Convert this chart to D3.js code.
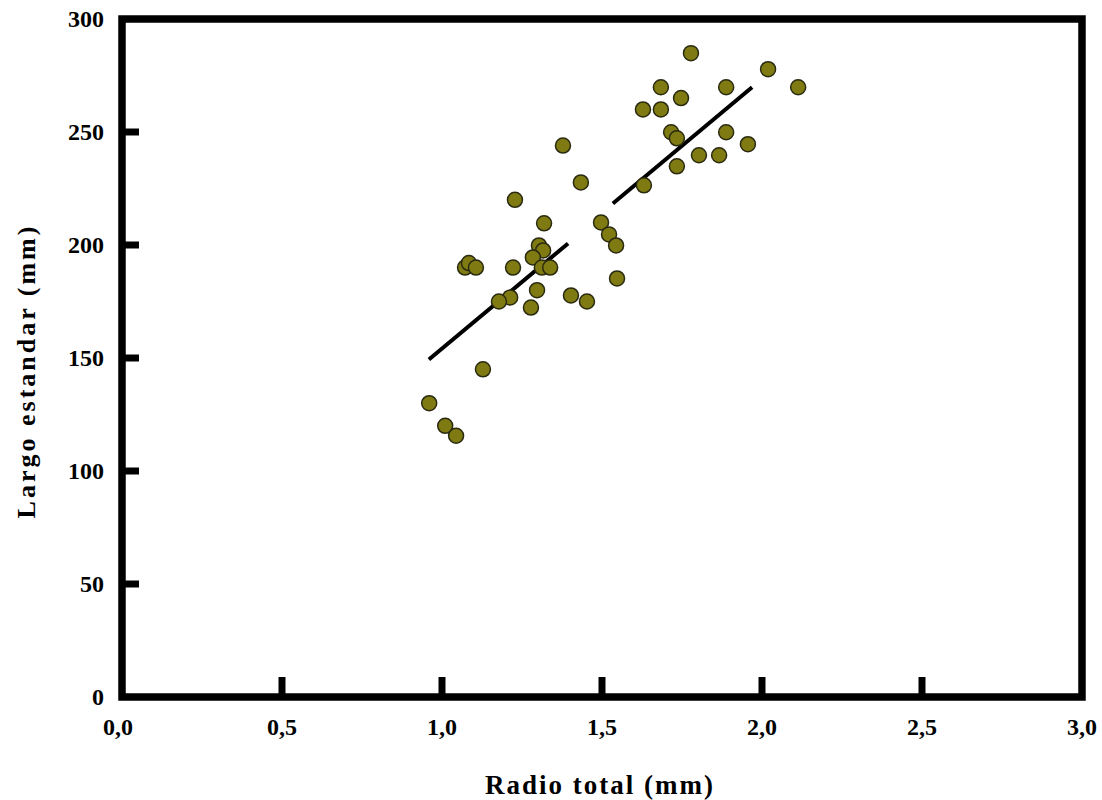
<!DOCTYPE html>
<html><head><meta charset="utf-8">
<script src="https://cdn.jsdelivr.net/npm/d3@7"></script>
<style>body{margin:0;background:#fff}svg{display:block}</style>
</head><body>
<script>
const radio = [0.96,1.01,1.044,1.128,1.072,1.084,1.106,1.222,1.228,1.434,1.319,1.303,1.316,1.284,1.312,1.338,1.297,1.278,1.213,1.178,1.403,1.453,1.497,1.522,1.544,1.547,1.378,1.631,1.778,1.684,1.747,1.628,1.684,1.888,2.019,2.113,1.716,1.734,1.888,1.956,1.803,1.866,1.734];
const largo = [130,120,115.6,145,190,192,190,190,220,227.7,209.6,199.8,197.6,194.5,190,190,180,172.3,176.8,175,177.7,175,210,204.7,199.8,185.2,244,226.4,284.9,269.8,265,260,260,269.8,277.8,269.8,249.9,247.2,249.9,244.6,239.7,239.7,234.8];
const fit1X = [0.959,1.394], fit1Y = [149.3,200.7];
const fit2X = [1.534,1.969], fit2Y = [218.4,269.8];
const xTicks = [0,0.5,1.0,1.5,2.0,2.5,3.0];
const yTicks = [0,50,100,150,200,250,300];

const W=1102,H=800;
const svg=d3.select("body").append("svg").attr("width",W).attr("height",H);
const x=d3.scaleLinear().domain([0,3]).range([122,1082]);
const y=d3.scaleLinear().domain([0,300]).range([697,19]);
const font="'Liberation Serif','Times New Roman',serif";

// fit lines
const line=d3.line().x(d=>x(d[0])).y(d=>y(d[1]));
[[fit1X,fit1Y],[fit2X,fit2Y]].forEach(([fx,fy])=>{
  svg.append("path").attr("d",line(fx.map((v,i)=>[v,fy[i]]))).attr("fill","none").attr("stroke","#000").attr("stroke-width",4);
});

// points
svg.append("g").selectAll("circle").data(radio.map((v,i)=>[v,largo[i]])).join("circle")
  .attr("cx",d=>x(d[0])).attr("cy",d=>y(d[1])).attr("r",7.5)
  .attr("fill","#7f7b12").attr("stroke","#2a2a10").attr("stroke-width",1.5);

// frame
svg.append("rect").attr("x",x(0)).attr("y",y(300)).attr("width",x(3)-x(0)).attr("height",y(0)-y(300))
  .attr("fill","none").attr("stroke","#000").attr("stroke-width",7.5);

// inward ticks
svg.append("g").selectAll("line").data(xTicks.slice(1,-1)).join("line")
  .attr("x1",d=>x(d)).attr("x2",d=>x(d)).attr("y1",y(0)).attr("y2",y(0)-20)
  .attr("stroke","#000").attr("stroke-width",7);
svg.append("g").selectAll("line").data(yTicks.slice(1,-1)).join("line")
  .attr("x1",x(0)).attr("x2",x(0)+17).attr("y1",d=>y(d)).attr("y2",d=>y(d))
  .attr("stroke","#000").attr("stroke-width",7);

// tick labels
const fmt=d=>d3.format(".1f")(d).replace(".",",");
svg.append("g").selectAll("text").data(xTicks).join("text")
  .attr("x",d=>x(d)-(d===0?4:0)).attr("y",y(0)+38).attr("text-anchor","middle")
  .attr("font-family",font).attr("font-weight","bold").attr("font-size",24).text(fmt);
svg.append("g").selectAll("text").data(yTicks).join("text")
  .attr("x",x(0)-18).attr("y",d=>y(d)+8).attr("text-anchor","end")
  .attr("font-family",font).attr("font-weight","bold").attr("font-size",24).text(d=>d);

// axis titles
svg.append("text").attr("x",600).attr("y",794).attr("text-anchor","middle")
  .attr("font-family",font).attr("font-weight","bold").attr("font-size",27).attr("letter-spacing",2).text("Radio total (mm)");
svg.append("text").attr("transform","translate(35,371) rotate(-90)").attr("text-anchor","middle")
  .attr("font-family",font).attr("font-weight","bold").attr("font-size",26).attr("letter-spacing",3).text("Largo estandar (mm)");
</script>
</body></html>
